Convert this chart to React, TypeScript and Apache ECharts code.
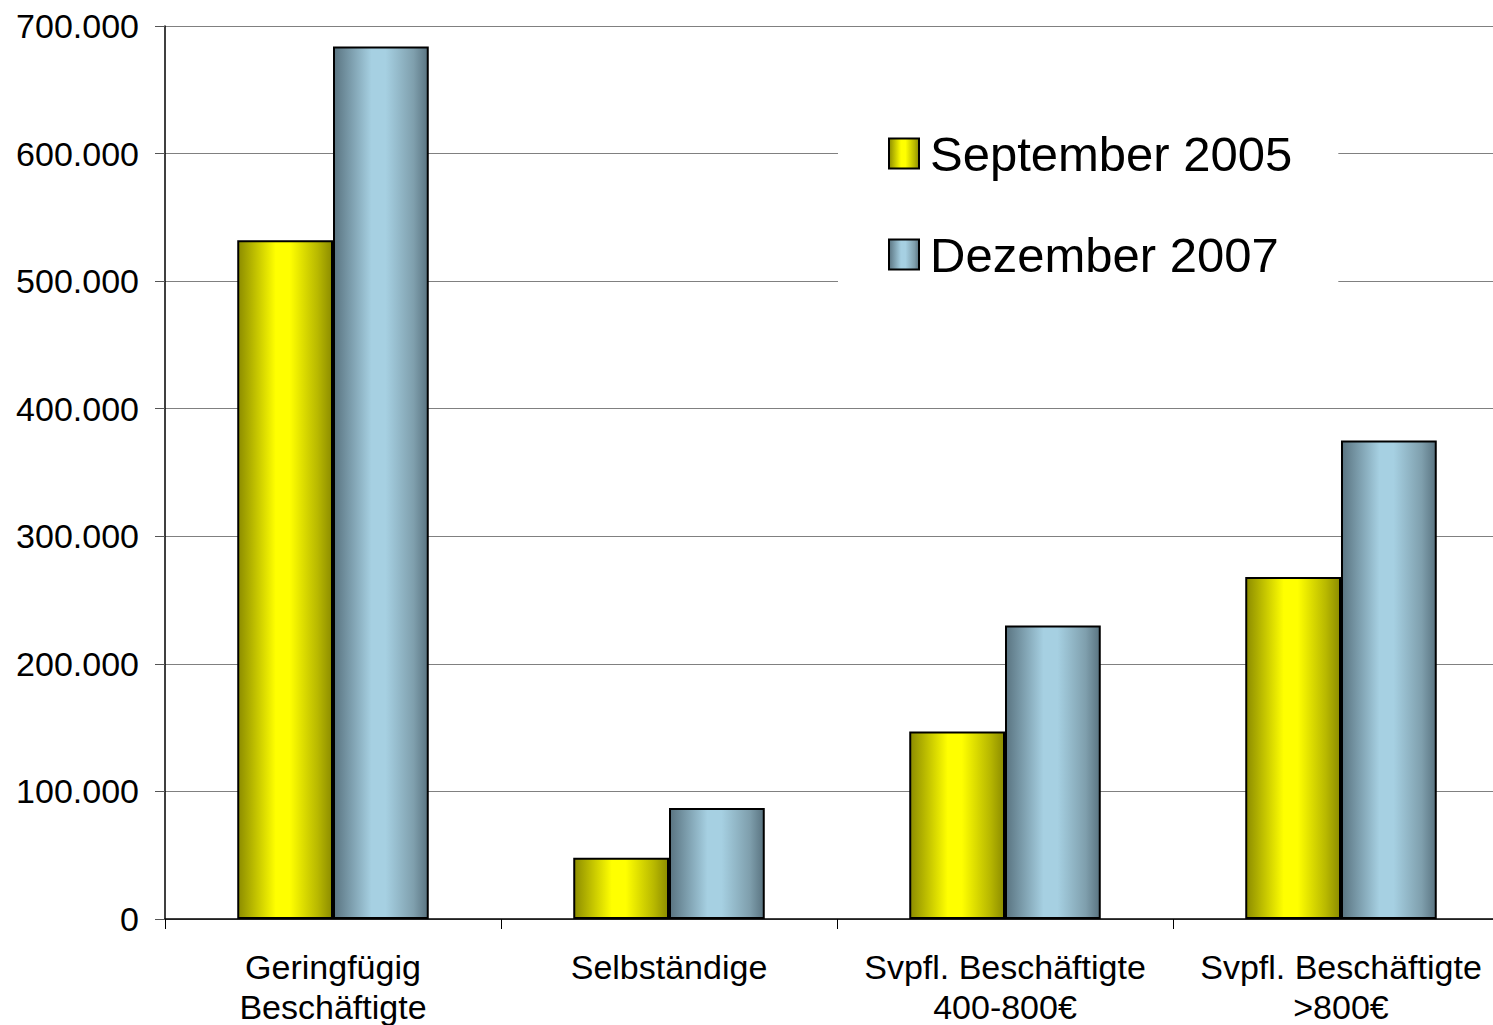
import React, { useEffect, useRef } from "react";
import * as echarts from "echarts";

const categories = [
  "Geringfügig\nBeschäftigte",
  "Selbständige",
  "Svpfl. Beschäftigte\n400-800€",
  "Svpfl. Beschäftigte\n>800€",
];
const seriesNames = ["September 2005", "Dezember 2007"];
const sept2005 = [532000, 48000, 147000, 268000];
const dez2007 = [684000, 87000, 230000, 375000];

const yellowGrad = new echarts.graphic.LinearGradient(0, 0, 1, 0, [
  { offset: 0, color: "#8c8c00" },
  { offset: 0.4, color: "#ffff00" },
  { offset: 0.55, color: "#ffff00" },
  { offset: 0.85, color: "#b8b800" },
  { offset: 1, color: "#8c8c00" },
]);
const blueGrad = new echarts.graphic.LinearGradient(0, 0, 1, 0, [
  { offset: 0, color: "#5a7481" },
  { offset: 0.4, color: "#a6d0e2" },
  { offset: 0.55, color: "#a6d0e2" },
  { offset: 0.85, color: "#7f9fad" },
  { offset: 1, color: "#5a7481" },
]);

export default function App() {
  const ref = useRef<HTMLDivElement>(null);
  useEffect(() => {
    if (!ref.current) return;
    const chart = echarts.init(ref.current, null, { renderer: "svg" });
    chart.setOption({
      animation: false,
      backgroundColor: "#ffffff",
      textStyle: { fontFamily: "Liberation Sans, Arial, sans-serif" },
      grid: {
        left: 165,
        top: 26,
        width: 1344,
        height: 893,
        containLabel: false,
        outerBoundsMode: "none",
      },
      legend: {
        left: 838,
        top: 100,
        orient: "vertical",
        backgroundColor: "#ffffff",
        padding: [29, 46, 29, 50],
        itemWidth: 30,
        itemHeight: 30,
        itemGap: 52,
        icon: "rect",
        textStyle: {
          fontSize: 49,
          lineHeight: 48,
          color: "#000",
          fontFamily: "Liberation Sans, Arial, sans-serif",
          padding: [0, 0, 0, 6],
        },
        data: seriesNames,
      },
      xAxis: {
        type: "category",
        data: categories,
        axisLine: { lineStyle: { color: "#000", width: 1.5 } },
        axisTick: { show: true, length: 10, lineStyle: { color: "#000" } },
        axisLabel: {
          fontSize: 34,
          lineHeight: 40,
          color: "#000",
          margin: 28,
          interval: 0,
          fontFamily: "Liberation Sans, Arial, sans-serif",
        },
      },
      yAxis: {
        type: "value",
        min: 0,
        max: 700000,
        interval: 100000,
        axisLine: { show: true, lineStyle: { color: "#000", width: 1.5 } },
        axisTick: { show: true, length: 10, lineStyle: { color: "#555" } },
        splitLine: { show: true, lineStyle: { color: "#808080", width: 1 } },
        axisLabel: {
          fontSize: 34,
          color: "#000",
          margin: 26,
          fontFamily: "Liberation Sans, Arial, sans-serif",
          formatter: (v: number) => (v === 0 ? "0" : `${v / 1000}.000`),
        },
      },
      series: [
        {
          name: seriesNames[0],
          type: "bar",
          data: sept2005,
          barGap: "0%",
          barCategoryGap: "43%",
          itemStyle: { color: yellowGrad, borderColor: "#000", borderWidth: 2 },
        },
        {
          name: seriesNames[1],
          type: "bar",
          data: dez2007,
          barGap: "0%",
          barCategoryGap: "43%",
          itemStyle: { color: blueGrad, borderColor: "#000", borderWidth: 2 },
        },
      ],
    });
    return () => chart.dispose();
  }, []);
  return (
    <div
      ref={ref}
      style={{ position: "fixed", left: 0, top: 0, width: 1493, height: 1025 }}
    />
  );
}
